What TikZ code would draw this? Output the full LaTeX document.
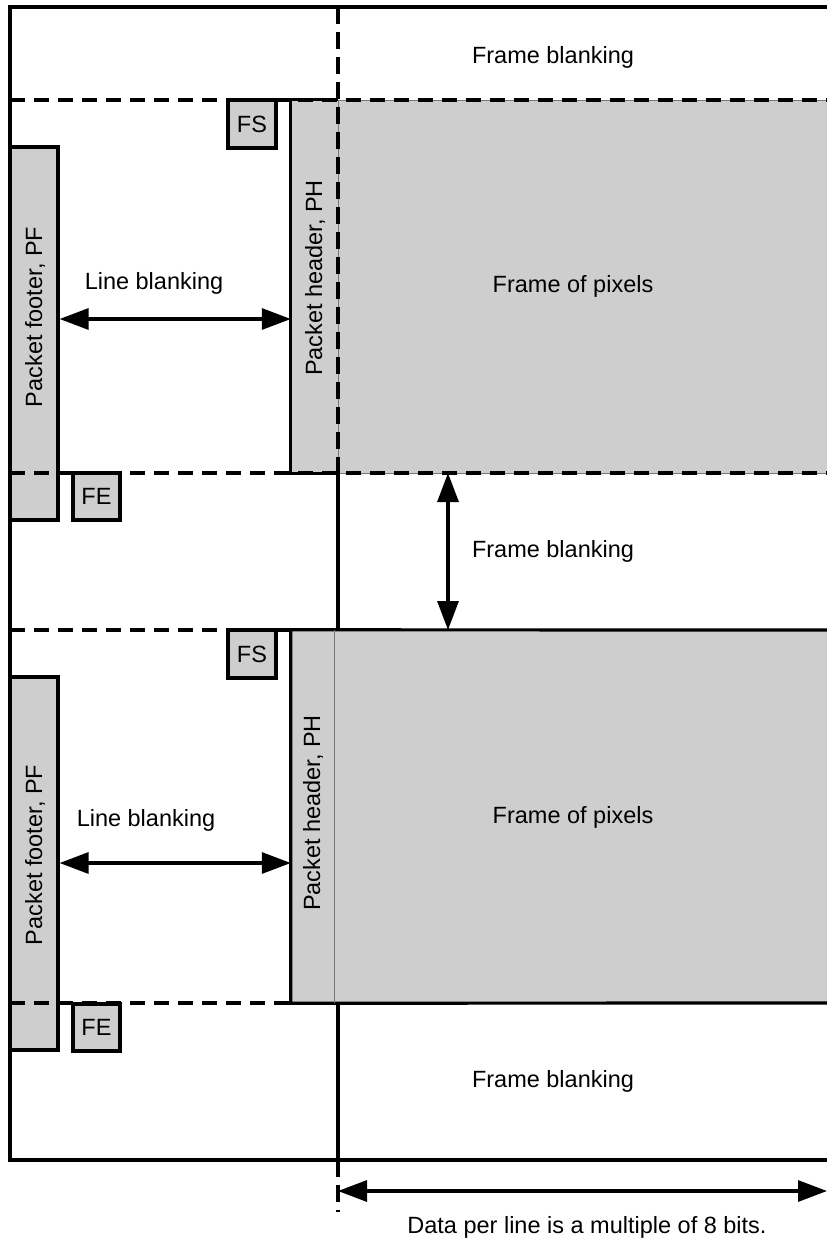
\documentclass[tikz,border=0pt]{standalone}
\usepackage{fontspec}
\setmainfont{Liberation Sans}
\usetikzlibrary{arrows.meta}
\definecolor{boxgray}{RGB}{206,206,206}
\definecolor{thingray}{RGB}{120,120,120}
\begin{document}
\begin{tikzpicture}[x=1pt,y=-1pt,
  bold/.style={line width=3.2pt},
  dashline/.style={line width=3.2pt, dash pattern=on 15pt off 9pt},
  vdash/.style={line width=3.2pt, dash pattern=on 17pt off 8pt},
  gbox/.style={draw=black, line width=3.2pt, fill=boxgray, inner sep=0pt},
  gfill/.style={fill=boxgray, inner sep=0pt},
  lbl/.style={font=\fontsize{23.5}{28}\selectfont, inner sep=0pt},
  dbl/.style={line width=3.2pt, {Triangle[length=29pt,width=21pt]}-{Triangle[length=29pt,width=21pt]}}
]
\useasboundingbox (0,0) rectangle (827,1243);
\clip (0,0) rectangle (827,1243);

% frame regions
\fill[boxgray] (338,100) rectangle (845,473);
\draw[thingray, line width=1pt] (845,100) -- (338,100) -- (338,473) -- (845,473);
\fill[boxgray] (291,630) rectangle (845,1003);

% packet headers
\node[gfill, minimum width=47pt, minimum height=373pt] (PH1) at (314.5,286.5) {};
\node[gfill, minimum width=43pt, minimum height=373pt] (PH2) at (312.5,816.5) {};
\draw[bold] (PH1.north east) -- (PH1.north west) -- (PH1.south west) -- (PH1.south east);
\draw[bold] (845,630) -- (PH2.north west) -- (PH2.south west) -- (845,1003);
\draw[thingray, line width=1pt] (PH2.north east) -- (PH2.south east);

% packet footers
\node[gbox, minimum width=48pt, minimum height=373pt] (PF1) at (34,333.5) {};
\node[gbox, minimum width=48pt, minimum height=373pt] (PF2) at (34,863.5) {};

% outer frame
\draw[bold] (845,7) -- (10,7) -- (10,1160) -- (845,1160);

% dashed separators
\draw[dashline] (10,100) -- (845,100);
\draw[dashline] (10,473) -- (845,473);
\draw[dashline] (10,630) -- (291,630);
\draw[dashline] (10,1003) -- (291,1003);
\draw[vdash] (338,7) -- (338,473);
\draw[bold] (338,473) -- (338,630);
\draw[bold] (338,1003) -- (338,1160);
\draw[vdash] (338,1160) -- (338,1212);
\draw[bold] (276,100) -- (PH1.north west);

% FS / FE markers
\node[gbox, minimum width=48pt, minimum height=48pt, lbl] (FS1) at (252,124) {FS};
\node[gbox, minimum width=47pt, minimum height=47pt, lbl] (FE1) at (96.5,496.5) {FE};
\node[gbox, minimum width=48pt, minimum height=48pt, lbl] (FS2) at (252,654) {FS};
\node[gbox, minimum width=47pt, minimum height=47pt, lbl] (FE2) at (96.5,1027.5) {FE};

% arrows
\draw[dbl] (PF1.east |- 0,319) -- (PH1.west |- 0,319);
\draw[dbl] (PF2.east |- 0,863) -- (PH2.west |- 0,863);
\coordinate (fbtop) at (448,473);
\coordinate (fbbot) at (448,630);
\draw[dbl] (fbtop) -- (fbbot);
\coordinate (dl) at (338,1191);
\coordinate (dr) at (827,1191);
\draw[dbl] (dl) -- (dr);

% labels
\node[lbl] (fb1) at (553,57) {Frame blanking};
\node[lbl] (fb2) at (553,551) {Frame blanking};
\node[lbl] (fb3) at (553,1081) {Frame blanking};
\node[lbl] (fp1) at (573,286) {Frame of pixels};
\node[lbl] (fp2) at (573,817) {Frame of pixels};
\node[lbl] (lb1) at (154,283) {Line blanking};
\node[lbl] (lb2) at (146,820) {Line blanking};
\node[lbl, rotate=90] (pht1) at (315,278) {Packet header, PH};
\node[lbl, rotate=90] (pht2) at (313,813) {Packet header, PH};
\node[lbl, rotate=90] (pft1) at (35,317) {Packet footer, PF};
\node[lbl, rotate=90] (pft2) at (35,855) {Packet footer, PF};
\node[lbl] (data) at (587,1227) {Data per line is a multiple of 8 bits.};
\end{tikzpicture}
\end{document}
